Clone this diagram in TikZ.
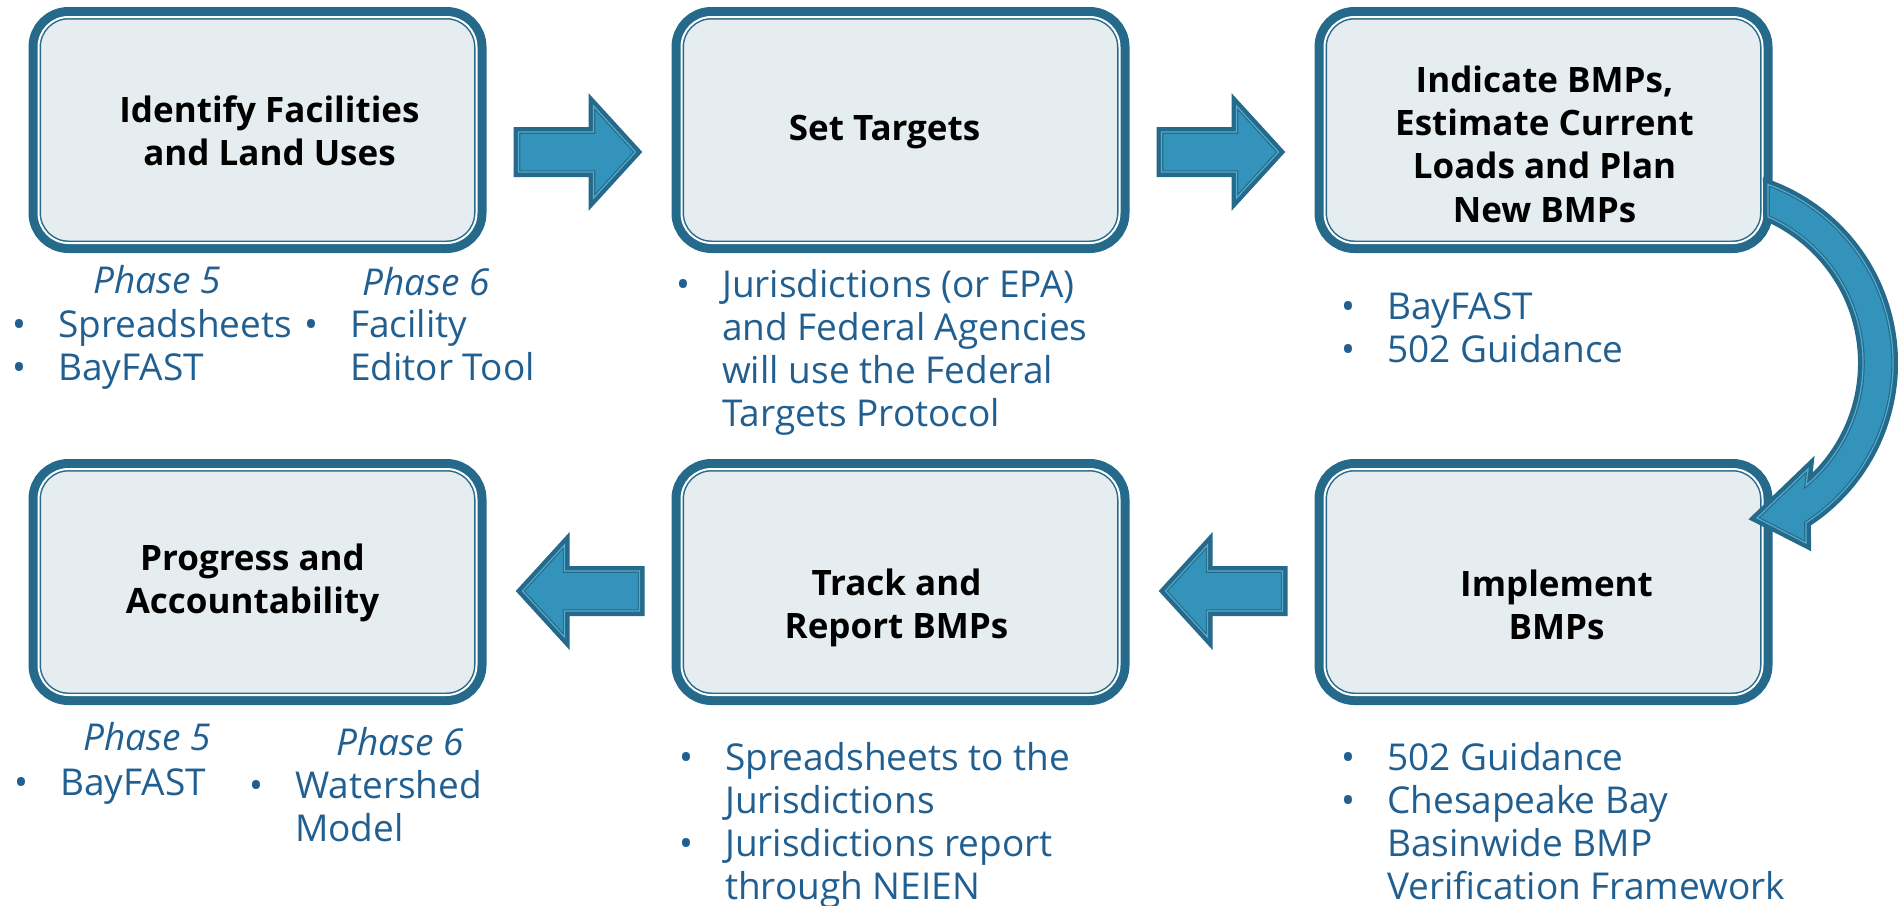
\documentclass[tikz,border=0pt]{standalone}
\usepackage{fontspec}
\setmainfont{Open Sans}
\usepackage{xcolor}
\definecolor{BoxLine}{RGB}{37,106,138}
\definecolor{BoxFill}{RGB}{229,237,240}
\definecolor{ArrowFill}{RGB}{52,147,186}
\definecolor{ArrowEdge}{RGB}{86,170,205}
\definecolor{TextBlue}{RGB}{33,95,145}
\usetikzlibrary{positioning, calc}

% hanging bullet in front of a list line
\newcommand{\bul}{\llap{\textbullet\hspace{32pt}}}
% fat straight arrow from shaft end #1 to tip #2
\newcommand{\blockarrow}[2]{%
  \path[fatarrow] let \p1=#1, \p2=#2, \n1={sign(\x2-\x1)} in
    (\x1,\y1+20) -- ({\x2-\n1*42},\y1+20) -- ({\x2-\n1*42},\y1+46) -- (\x2,\y1)
    -- ({\x2-\n1*42},\y1-46) -- ({\x2-\n1*42},\y1-20) -- (\x1,\y1-20) -- cycle;}

\begin{document}
\begin{tikzpicture}[
    x=1pt, y=-1pt,
    stage/.style={rectangle, rounded corners=30pt, minimum width=438pt, minimum height=226pt, outer sep=0pt,
        fill=BoxFill, draw=BoxLine, line width=5pt,
        preaction={draw=BoxLine, line width=20pt},
        postaction={draw=white, line width=2pt}},
    head/.style={align=center, font=\fontsize{35}{43.3}\selectfont\bfseries},
    list/.style={anchor=base west, inner sep=0pt, align=left, text=TextBlue, font=\fontsize{37}{43.3}\selectfont},
    phase/.style={list, font=\fontsize{37}{43.3}\selectfont\itshape},
    fatarrow/.style={fill=ArrowFill, draw=BoxLine, line width=3.5pt, line join=miter,
        preaction={draw=BoxLine, line width=10pt, line join=miter},
        postaction={draw=ArrowEdge, line width=1.2pt, line join=miter}},
]
\path[use as bounding box, fill=white] (0,0) rectangle (1898,905);

% Stages
\node[stage] (identify) at (257.5,130) {};
\node[stage, right=205pt of identify] (targets) {};
\node[stage, right=205pt of targets] (indicate) {};
\node[stage, below=226pt of identify] (progress) {};
\node[stage, below=226pt of targets] (track) {};
\node[stage, below=226pt of indicate] (implement) {};

% Stage titles
\node[head] (hIdentify) at ([shift={(12,1)}]identify.center) {Identify Facilities\\and Land Uses};
\node[head] (hTargets) at ([shift={(-16,2)}]targets.center) {Set Targets};
\node[head] (hIndicate) at ([shift={(1,14)}]indicate.center) {Indicate BMPs,\\Estimate Current\\Loads and Plan\\New BMPs};
\node[head] (hProgress) at ([shift={(-5,1)}]progress.center) {Progress and\\Accountability};
\node[head] (hTrack) at ([shift={(-4,26)}]track.center) {Track and\\Report BMPs};
\node[head] (hImplement) at ([shift={(13,23)}]implement.center) {Implement\\BMPs};

% Arrows
\blockarrow{([shift={(42,22)}]identify.east)}{([shift={(-46,22)}]targets.west)}
\blockarrow{([shift={(42,22)}]targets.east)}{([shift={(-46,22)}]indicate.west)}
\blockarrow{([shift={(-42,9)}]implement.west)}{([shift={(46,9)}]track.east)}
\blockarrow{([shift={(-42,9)}]track.west)}{([shift={(46,9)}]progress.east)}
\coordinate (bend) at ([shift={(-59.5,233)}]indicate.east);
\path[fatarrow] ($(bend)+(-70:190)$) arc[start angle=-70, end angle=57.2, radius=190]
    -- ($(bend)+(103,180)$) -- ($(bend)+(54,155)$) -- ($(bend)+(105,106)$)
    -- ($(bend)+(49.9:160)$) arc[start angle=49.9, end angle=-66, radius=160] -- cycle;

% Tools under each stage (anchored on the last line)
\node[phase] (idP5) at ([shift={(54.5,50)}]identify.south west) {Phase 5};
\node[phase] (idP6) at ([shift={(323.5,52)}]identify.south west) {Phase 6};
\node[list] (idL5) at ([shift={(19.5,137.3)}]identify.south west) {\bul Spreadsheets\\\bul BayFAST};
\node[list] (idL6) at ([shift={(311.5,137.3)}]identify.south west) {\bul Facility\\Editor Tool};
\node[list] (tgtList) at ([shift={(40.5,183.9)}]targets.south west) {\bul Jurisdictions (or EPA)\\and Federal Agencies\\will use the Federal\\Targets Protocol};
\node[list] (indList) at ([shift={(62.5,119.3)}]indicate.south west) {\bul BayFAST\\\bul 502 Guidance};
\node[phase] (prgP5) at ([shift={(44.5,55)}]progress.south west) {Phase 5};
\node[phase] (prgP6) at ([shift={(297.5,60)}]progress.south west) {Phase 6};
\node[list] (prgL5) at ([shift={(21.5,100)}]progress.south west) {\bul BayFAST};
\node[list] (prgL6) at ([shift={(256.5,146.3)}]progress.south west) {\bul Watershed\\Model};
\node[list] (trkList) at ([shift={(43.5,204.9)}]track.south west) {\bul Spreadsheets to the\\Jurisdictions\\\bul Jurisdictions report\\through NEIEN};
\node[list] (impList) at ([shift={(62.5,204.9)}]implement.south west) {\bul 502 Guidance\\\bul Chesapeake Bay\\Basinwide BMP\\Verification Framework};

\end{tikzpicture}
\end{document}
